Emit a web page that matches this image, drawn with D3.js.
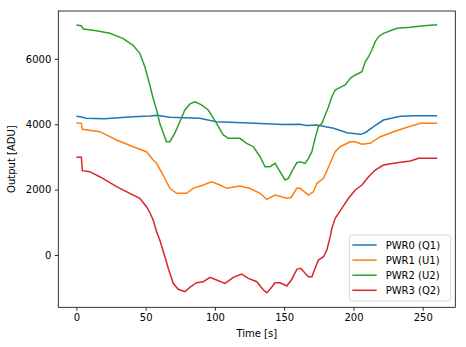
<!DOCTYPE html>
<html><head><meta charset="utf-8">
<script src="https://cdn.jsdelivr.net/npm/d3@7/dist/d3.min.js"></script>
<style>body{margin:0;background:#fff}svg{display:block;font-family:"DejaVu Sans",sans-serif}</style>
</head><body>
<svg id="c" width="466" height="347"></svg>
<script>
const seriesNames = ["PWR0 (Q1)", "PWR1 (U1)", "PWR2 (U2)", "PWR3 (Q2)"];
const colors = ["#1f77b4", "#ff7f0e", "#2ca02c", "#d62728"];
const xTicks = [0, 50, 100, 150, 200, 250];
const yTicks = [0, 2000, 4000, 6000];

const pwr0 = [[0,4240],[3,4230],[7,4180],[20,4170],[41,4229],[53,4250],[58,4270],[67.5,4210],[89,4180],[101,4077],[125,4040],[149.4,3990],[161.5,4000],[166,3960],[173.6,3975],[185.6,3874],[195.3,3740],[204.9,3690],[208.5,3740],[214.5,3924],[221.7,4128],[233.8,4240],[245,4255],[260.4,4260]];
const pwr1 = [[0,4046],[3.6,4027],[4.3,3843],[16.9,3771],[29,3517],[41,3312],[50.6,3160],[55.4,2905],[57.9,2804],[62.6,2446],[67.5,2040],[72.3,1887],[79.6,1887],[84.3,2040],[91.6,2141],[97.6,2242],[103.6,2141],[108.5,2040],[118,2110],[125,2040],[132.6,1887],[137.4,1703],[143.4,1835],[151.9,1734],[155,1760],[159.1,2040],[161.5,2040],[167.5,1835],[171.1,1937],[173.6,2192],[178.4,2345],[183.2,2804],[186.8,3160],[190.4,3312],[197.7,3465],[201.3,3465],[206.1,3385],[212.1,3416],[219.4,3618],[229,3771],[238.7,3905],[248.3,4027],[260.4,4027]];
const pwr2 = [[0,7034],[3.6,7010],[5,6911],[14.5,6860],[24.1,6779],[33.5,6627],[40.7,6422],[45.8,6168],[49.4,5758],[53,5199],[55.4,4792],[57.9,4434],[60.2,4027],[65,3465],[67.5,3465],[71,3720],[74.7,4077],[78.3,4434],[82,4620],[85.6,4688],[90,4600],[95.2,4434],[101.2,4027],[106,3670],[109.7,3568],[118,3568],[122.9,3416],[127.7,3312],[132.6,3006],[136.2,2700],[139.8,2700],[143.4,2803],[147,2548],[150.6,2294],[153,2345],[155.5,2548],[159.1,2823],[161.5,2854],[165.1,2803],[167.5,2956],[170,3160],[172.3,3568],[174.7,3924],[177.2,4027],[179.6,4281],[182,4535],[184.4,4841],[186.8,5046],[190.4,5128],[194,5199],[197.7,5403],[201.3,5505],[206.1,5607],[208.5,5911],[210.9,6064],[213.3,6269],[215.7,6524],[218.1,6677],[221.7,6779],[226.6,6860],[231.4,6932],[241,6963],[250.7,7012],[260.4,7043]];
const pwr3 = [[0,2988],[3.6,2988],[4.3,2578],[9.6,2548],[16.9,2394],[29,2089],[38.5,1887],[45.8,1734],[50.6,1477],[53,1300],[55.4,1070],[57.9,713],[60.2,459],[63.9,-52],[66.3,-407],[69.9,-866],[73.5,-1049],[78.3,-1122],[81.9,-988],[86.8,-847],[91.6,-817],[96.4,-682],[101.2,-765],[107.3,-866],[113.3,-682],[119.3,-581],[124.1,-713],[130.2,-817],[135,-1070],[137.4,-1153],[139.8,-1049],[143.4,-847],[147,-847],[151.9,-948],[155.5,-743],[159.1,-437],[162,-407],[165.1,-560],[167.5,-664],[170,-664],[172.3,-407],[174.7,-153],[178.4,-52],[180.8,153],[183.2,560],[184.4,816],[186.8,1122],[191.6,1428],[196.4,1734],[201.3,1988],[206.1,2141],[210.9,2394],[215.7,2599],[221.7,2752],[231.4,2823],[241,2875],[247,2956],[260.4,2956]];
const allSeries = [pwr0, pwr1, pwr2, pwr3];

const svg = d3.select("#c");
const L = 58.3, R = 455.3, T = 11, B = 307.3;
const x = d3.scaleLinear().domain([-13.05, 273.5]).range([L, R]);
const y = d3.scaleLinear().domain([-1599, 7462]).range([B, T]);

const line = d3.line().x(d => x(d[0])).y(d => y(d[1])).curve(d3.curveStepAfter);
allSeries.forEach((s, i) => {
  svg.append("path").attr("d", d3.line().x(d => x(d[0])).y(d => y(d[1]))(s))
    .attr("fill", "none").attr("stroke", colors[i]).attr("stroke-width", 1.5)
    .attr("stroke-linejoin", "miter");
});

const xa = svg.append("g").attr("transform", `translate(0,${B})`)
  .call(d3.axisBottom(x).tickValues(xTicks).tickSize(3.5).tickPadding(3.5).tickFormat(d3.format("d")));
const ya = svg.append("g").attr("transform", `translate(${L},0)`)
  .call(d3.axisLeft(y).tickValues(yTicks).tickSize(3.5).tickPadding(3.5).tickFormat(d3.format("d")));
[xa, ya].forEach(a => {
  a.select(".domain").remove();
  a.selectAll("text").attr("font-size", 10).attr("font-family", "DejaVu Sans").attr("fill", "#000");
  a.selectAll("line").attr("stroke", "#000").attr("stroke-width", 0.8);
});
svg.append("rect").attr("x", L).attr("y", T).attr("width", R - L).attr("height", B - T)
  .attr("fill", "none").attr("stroke", "#000").attr("stroke-width", 0.8);

svg.append("text").attr("x", (L + R) / 2).attr("y", 337).attr("text-anchor", "middle")
  .attr("font-size", 10).text("Time [s]");
svg.append("text").attr("transform", `translate(15,${(T + B) / 2}) rotate(-90)`)
  .attr("text-anchor", "middle").attr("font-size", 10).text("Output [ADU]");

const lg = svg.append("g");
lg.append("rect").attr("x", 349.3).attr("y", 235).attr("width", 101.4).attr("height", 66)
  .attr("rx", 2.5).attr("fill", "#fff").attr("fill-opacity", 0.8).attr("stroke", "#ccc").attr("stroke-width", 0.8);
seriesNames.forEach((n, i) => {
  const yy = 245 + i * 15.1;
  lg.append("line").attr("x1", 352.3).attr("x2", 376.7).attr("y1", yy).attr("y2", yy)
    .attr("stroke", colors[i]).attr("stroke-width", 1.5);
  lg.append("text").attr("x", 385.7).attr("y", yy).attr("dy", "0.35em").attr("font-size", 10).text(n);
});
</script>
</body></html>
